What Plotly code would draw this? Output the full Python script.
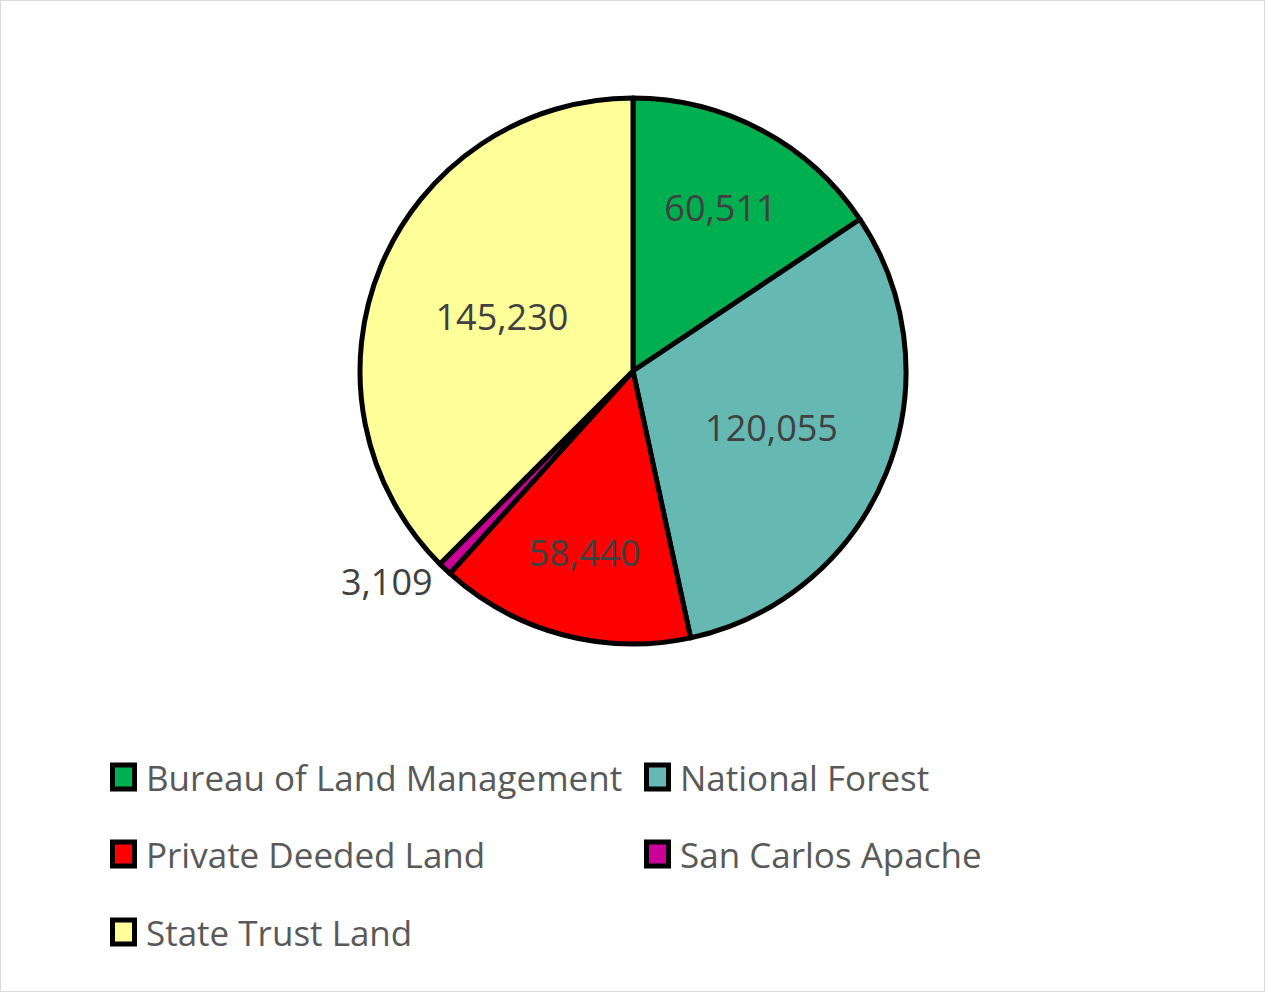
import plotly.graph_objects as go

labels = ["Bureau of Land Management", "National Forest", "Private Deeded Land",
          "San Carlos Apache", "State Trust Land"]
values = [60511, 120055, 58440, 3109, 145230]
colors = ["#00B050", "#65B9B2", "#FF0000", "#CC0099", "#FFFF99"]
text_pos = ["inside", "inside", "inside", "outside", "inside"]

W, H = 1265, 992
FONT = "Open Sans"

fig = go.Figure()
cx, cy, r = 633, 371, 273
fig.add_trace(go.Pie(
    labels=labels, values=values, sort=False, direction="clockwise", rotation=0,
    marker=dict(colors=colors, line=dict(color="black", width=5)),
    texttemplate="%{value:,}", textposition=text_pos,
    insidetextorientation="horizontal",
    textfont=dict(family=FONT, size=36, color="#404040"),
    showlegend=False, hoverinfo="label+value",
    domain=dict(x=[(cx - r) / W, (cx + r) / W], y=[(H - cy - r) / H, (H - cy + r) / H]),
))

# manual legend (Excel style) built from labels/colors
cols_x = [110, 644]
rows_y = [777, 854, 932]
shapes = [dict(type="rect", xref="paper", yref="paper", x0=0.5 / W, x1=1 - 0.5 / W,
               y0=0.5 / H, y1=1 - 0.5 / H, line=dict(color="#D9D9D9", width=1))]
annotations = []
for i, (lab, col) in enumerate(zip(labels, colors)):
    x = cols_x[i % 2]
    y = rows_y[i // 2]
    shapes.append(dict(type="rect", xref="paper", yref="paper",
                       x0=(x + 2.5) / W, x1=(x + 24.5) / W,
                       y0=(H - y - 12) / H, y1=(H - y + 12) / H,
                       fillcolor=col, line=dict(color="black", width=5)))
    annotations.append(dict(text=lab, xref="paper", yref="paper", x=(x + 34) / W, y=(H - y) / H,
                            xanchor="left", yanchor="middle", showarrow=False,
                            font=dict(family=FONT, size=35, color="#595959")))

fig.update_layout(width=W, height=H, margin=dict(l=0, r=0, t=0, b=0),
                  paper_bgcolor="white", plot_bgcolor="white",
                  shapes=shapes, annotations=annotations)
fig.write_html("out.html")
